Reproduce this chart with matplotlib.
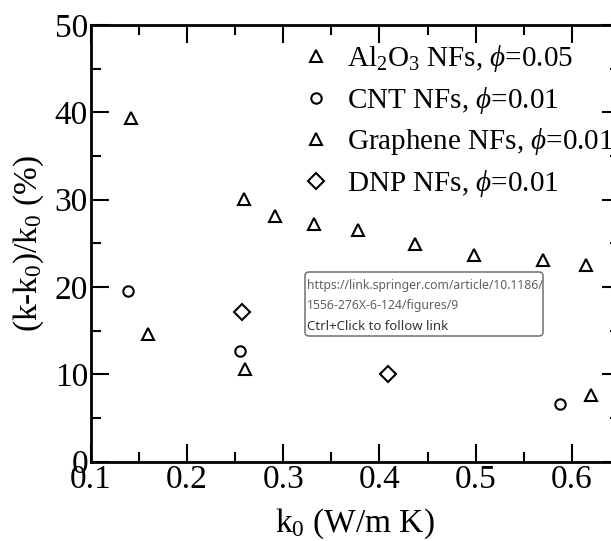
import matplotlib.pyplot as plt
from matplotlib.patches import FancyBboxPatch
from matplotlib.ticker import MultipleLocator

# values
al2o3_k0 = [0.1597, 0.260, 0.620]
al2o3_enh = [14.6, 10.6, 7.6]

cnt_k0 = [0.1386, 0.2552, 0.588]
cnt_enh = [19.6, 12.7, 6.6]

graphene_k0 = [0.1415, 0.259, 0.2917, 0.3318, 0.3777, 0.4375, 0.4983, 0.570, 0.615]
graphene_enh = [39.3, 30.1, 28.1, 27.2, 26.5, 24.9, 23.7, 23.1, 22.5]

dnp_k0 = [0.2577, 0.409]
dnp_enh = [17.1, 10.05]

labels = [r"Al$_2$O$_3$ NFs, $\phi$=0.05", r"CNT NFs, $\phi$=0.01",
          r"Graphene NFs, $\phi$=0.01", r"DNP NFs, $\phi$=0.01"]

plt.rcParams['font.family'] = ['Liberation Serif', 'DejaVu Serif']
plt.rcParams['mathtext.fontset'] = 'custom'
plt.rcParams['mathtext.rm'] = 'Liberation Serif'
plt.rcParams['mathtext.it'] = 'Liberation Serif:italic'

fig = plt.figure(figsize=(6.11, 5.41), dpi=100)
ax = fig.add_axes([0.1484, 0.1466, 0.8663, 0.8072])

mk = dict(linestyle='none', markerfacecolor='none', markeredgecolor='black',
          markeredgewidth=1.5)
ax.plot(al2o3_k0, al2o3_enh, marker='^', markersize=9, label=labels[0], **mk)
ax.plot(cnt_k0, cnt_enh, marker='o', markersize=7.5, label=labels[1], **mk)
ax.plot(graphene_k0, graphene_enh, marker='^', markersize=9, label=labels[2], **mk)
ax.plot(dnp_k0, dnp_enh, marker='D', markersize=8, label=labels[3], **mk)

ax.set_xlim(0.1, 0.65)
ax.set_ylim(0, 50)
ax.xaxis.set_major_locator(MultipleLocator(0.1))
ax.xaxis.set_minor_locator(MultipleLocator(0.05))
ax.yaxis.set_major_locator(MultipleLocator(10))
ax.yaxis.set_minor_locator(MultipleLocator(5))
ax.set_xticks([0.1, 0.2, 0.3, 0.4, 0.5, 0.6])
ax.set_xticklabels(['0.1', '0.2', '0.3', '0.4', '0.5', '0.6'])
ax.tick_params(which='both', direction='in', top=True, right=True, width=1.5,
               labelsize=24, pad=2)
ax.tick_params(which='major', length=13)
ax.tick_params(which='minor', length=7)
for s in ax.spines.values():
    s.set_linewidth(2)

ax.set_xlabel(r"k$_0$ (W/m K)", fontsize=24, labelpad=8)
ax.set_ylabel(r"(k-k$_0$)/k$_0$ (%)", fontsize=24, labelpad=6)

leg = ax.legend(loc='upper left', bbox_to_anchor=(0.371, 0.985), frameon=False,
                fontsize=21, handletextpad=0.45, labelspacing=0.36,
                handlelength=1.2, borderaxespad=0)

# browser tooltip captured in the screenshot
box = FancyBboxPatch((305, 205), 238, 64, boxstyle="round,pad=0,rounding_size=4",
                     transform=None, facecolor='white', edgecolor='#7a7a7a',
                     linewidth=1.2, zorder=10)
fig.patches.append(box)
tip = dict(transform=None, family=['Noto Sans', 'DejaVu Sans'],
           zorder=11, va='center', ha='left')
fig.text(307, 541 - 285, "https://link.springer.com/article/10.1186/",
         color='#606060', fontsize=8.8, **tip)
fig.text(307, 541 - 305, "1556-276X-6-124/figures/9",
         color='#606060', fontsize=8.8, **tip)
fig.text(307, 541 - 326, "Ctrl+Click to follow link", color='#333333',
         fontweight='bold', fontsize=9.5, **tip)

fig.savefig('out.png', dpi=100)
